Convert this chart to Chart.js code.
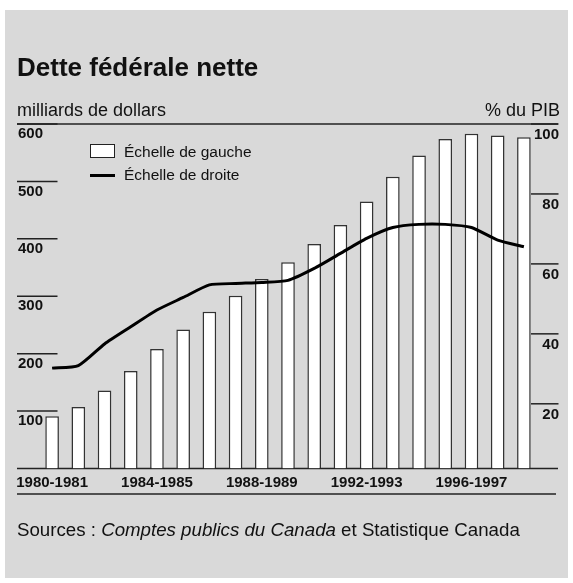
<!DOCTYPE html>
<html lang="fr">
<head>
<meta charset="utf-8">
<script src="https://cdn.jsdelivr.net/npm/chart.js@4.4.1/dist/chart.umd.min.js"></script>
<style>
  html, body { margin: 0; padding: 0; background: #fff; }
  body { width: 573px; height: 583px; position: relative; overflow: hidden;
         font-family: "Liberation Sans", Arial, Helvetica, sans-serif; color: #111; }
  #panel { position: absolute; left: 5px; top: 10px; width: 563px; height: 568px; background: #d9d9d9; }
  #chart { position: absolute; left: 0; top: 0; }
  .txt { position: absolute; white-space: nowrap; }
  #title { left: 17px; top: 54px; font-size: 26px; line-height: 26px; font-weight: bold; }
  #unitLeft { left: 17px; top: 101px; font-size: 18px; line-height: 18px; }
  #unitRight { right: 13px; top: 101px; font-size: 18px; line-height: 18px; }
  .leg { left: 124px; font-size: 15.5px; line-height: 15.5px; }
  #leg1 { top: 144px; }
  #leg2 { top: 167px; }
  #legBox { position: absolute; left: 90px; top: 144px; width: 23px; height: 12px; background: #fff; border: 1.5px solid #222; }
  #legLine { position: absolute; left: 90px; top: 173.5px; width: 25px; height: 3px; background: #000; }
  #source { left: 17px; top: 521px; font-size: 18.7px; line-height: 18.7px; }
</style>
</head>
<body>
<div id="panel"></div>
<canvas id="chart" width="573" height="583"></canvas>
<div class="txt" id="title">Dette fédérale nette</div>
<div class="txt" id="unitLeft">milliards de dollars</div>
<div class="txt" id="unitRight">% du PIB</div>
<div id="legBox"></div>
<div class="txt leg" id="leg1">Échelle de gauche</div>
<div id="legLine"></div>
<div class="txt leg" id="leg2">Échelle de droite</div>
<div class="txt" id="source">Sources : <i>Comptes publics du Canada</i> et Statistique Canada</div>

<script>
// exercices financiers
const years = [
  "1980-1981", "1981-1982", "1982-1983", "1983-1984", "1984-1985",
  "1985-1986", "1986-1987", "1987-1988", "1988-1989", "1989-1990",
  "1990-1991", "1991-1992", "1992-1993", "1993-1994", "1994-1995",
  "1995-1996", "1996-1997", "1997-1998", "1998-1999"
];
// dette nette, milliards de dollars (échelle de gauche)
const debtBillions = [91, 107, 136, 170, 208, 242, 273, 301, 330, 359,
                      391, 424, 465, 508, 545, 574, 583, 580, 577];
// dette en % du PIB (échelle de droite)
const debtPctGdp = [30.2, 30.9, 37.1, 42.0, 46.8, 50.4, 54.0, 54.4, 54.7, 55.3,
                    58.7, 63.0, 67.3, 70.4, 71.3, 71.3, 70.4, 66.8, 64.9];

const leftTicks = [100, 200, 300, 400, 500, 600];
const rightTicks = [20, 40, 60, 80, 100];
const shownYears = ["1980-1981", "1984-1985", "1988-1989", "1992-1993", "1996-1997"];

const FONT = "'Liberation Sans', Arial, Helvetica, sans-serif";
const INK = "#222";

// filets horizontaux et petits traits de graduation
const rules = {
  id: "rules",
  beforeDatasetsDraw(chart) {
    const ctx = chart.ctx;
    const a = chart.chartArea;
    const yl = chart.scales.y, yr = chart.scales.y1;
    ctx.save();
    ctx.strokeStyle = INK;
    ctx.lineWidth = 1.5;
    const hline = (x1, x2, y) => { ctx.beginPath(); ctx.moveTo(x1, y); ctx.lineTo(x2, y); ctx.stroke(); };
    hline(17, 558, a.top);
    leftTicks.forEach(v => hline(17, 57.5, yl.getPixelForValue(v)));
    rightTicks.forEach(v => hline(531, 558.5, yr.getPixelForValue(v)));
    hline(17, 558, a.bottom);
    hline(17, 556, 494);
    ctx.restore();
  }
};

const tickFont = { family: FONT, size: 15, weight: "bold" };

new Chart(document.getElementById("chart"), {
  data: {
    labels: years,
    datasets: [
      {
        type: "line",
        data: debtPctGdp,
        yAxisID: "y1",
        borderColor: "#000",
        borderWidth: 3,
        pointRadius: 0,
        tension: 0.2,
        order: 0
      },
      {
        type: "bar",
        data: debtBillions,
        yAxisID: "y",
        backgroundColor: "#fff",
        borderColor: "#333",
        borderWidth: 1.5,
        barPercentage: 0.52,
        categoryPercentage: 1,
        order: 1
      }
    ]
  },
  options: {
    responsive: false,
    animation: false,
    events: [],
    layout: { padding: { left: 17, right: 14, top: 124, bottom: 0 } },
    plugins: { legend: { display: false }, tooltip: { enabled: false } },
    scales: {
      x: {
        offset: true,
        grid: { display: false, drawTicks: false },
        border: { display: false },
        ticks: {
          autoSkip: false,
          maxRotation: 0,
          padding: 5,
          color: "#111",
          font: tickFont,
          callback(v, i) { return shownYears.includes(years[i]) ? years[i] : ""; }
        },
        afterFit(s) { s.height = 583 - 468.5; s.paddingLeft = 0; s.paddingRight = 0; }
      },
      y: {
        position: "left",
        min: 0, max: 600,
        grid: { display: false, drawTicks: false },
        border: { display: false },
        afterBuildTicks(s) { s.ticks = leftTicks.map(v => ({ value: v })); },
        ticks: { mirror: true, crossAlign: "near", padding: -21, labelOffset: 10, color: "#111", font: tickFont },
        afterFit(s) { s.width = 22; s.paddingTop = 0; s.paddingBottom = 0; }
      },
      y1: {
        position: "right",
        min: 1.5, max: 100,
        grid: { display: false, drawTicks: false },
        border: { display: false },
        afterBuildTicks(s) { s.ticks = rightTicks.map(v => ({ value: v })); },
        ticks: { mirror: true, crossAlign: "near", padding: 22, labelOffset: 11, color: "#111", font: tickFont },
        afterFit(s) { s.width = 22; s.paddingTop = 0; s.paddingBottom = 0; }
      }
    }
  },
  plugins: [rules]
});
</script>
</body>
</html>
